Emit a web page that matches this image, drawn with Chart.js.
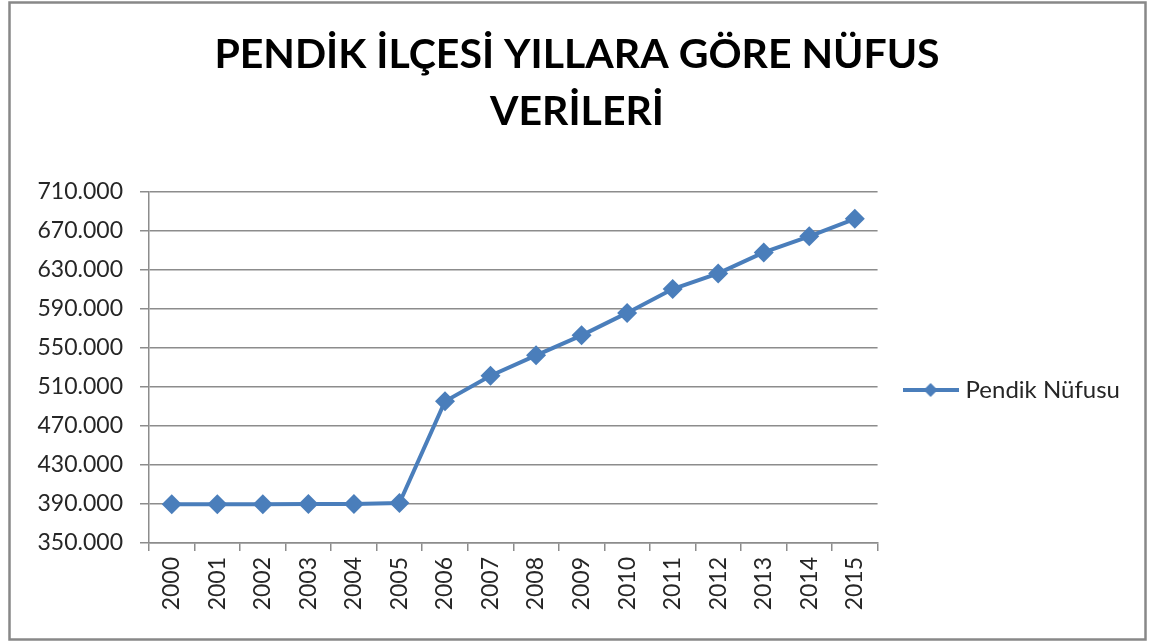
<!DOCTYPE html>
<html><head><meta charset="utf-8">
<script src="https://cdn.jsdelivr.net/npm/chart.js@4/dist/chart.umd.min.js"></script>
<style>html,body{margin:0;padding:0;background:#fff;overflow:hidden;}</style>
</head><body>
<canvas id="c" width="1159" height="641" style="display:block;width:1159px;height:641px"></canvas>
<script>
const titleLines = ["PENDİK İLÇESİ YILLARA GÖRE NÜFUS", "VERİLERİ"];
const years = ["2000","2001","2002","2003","2004","2005","2006","2007","2008","2009","2010","2011","2012","2013","2014","2015"];
const population = [389800, 389800, 389800, 389900, 389900, 391000, 495300, 521500, 542500, 563000, 586000, 610500, 626500, 648000, 664500, 682500];
const seriesName = "Pendik Nüfusu";
const yMin = 350000, yMax = 710000, yStep = 40000;

const BLUE = '#4A7EBB';
const GRID = '#8c8c8c';
const TXT = '#262626';

function fmt(v){ return String(Math.round(v)).replace(/\B(?=(\d{3})+(?!\d))/g, '.'); }

// legend icon: line with diamond
const icon = document.createElement('canvas');
icon.width = 56; icon.height = 20;
(function(){
  const g = icon.getContext('2d');
  g.strokeStyle = BLUE; g.lineWidth = 4;
  g.beginPath(); g.moveTo(0,10); g.lineTo(56,10); g.stroke();
  g.fillStyle = BLUE;
  g.beginPath(); g.moveTo(28,3); g.lineTo(35,10); g.lineTo(28,17); g.lineTo(21,10); g.closePath(); g.fill();
})();

const framePlugin = {
  id: 'frame',
  beforeDraw(chart){
    const c = chart.ctx;
    c.save();
    c.fillStyle = '#fff';
    c.fillRect(0,0,chart.width,chart.height);
    c.strokeStyle = '#888';
    c.lineWidth = 2.5;
    c.strokeRect(9.5, 2.5, 1136, 637);
    c.restore();
  }
};

new Chart(document.getElementById('c'), {
  type: 'line',
  data: {
    labels: years,
    datasets: [{
      label: seriesName,
      data: population,
      borderColor: BLUE,
      backgroundColor: BLUE,
      borderWidth: 4,
      pointStyle: 'rectRot',
      pointRadius: 10,
      pointHoverRadius: 10,
      pointBackgroundColor: BLUE,
      pointBorderWidth: 0,
      tension: 0,
      clip: false
    }]
  },
  options: {
    responsive: false,
    animation: false,
    devicePixelRatio: 1,
    layout: { padding: { left: 24, top: 0, right: 29, bottom: 0 } },
    plugins: {
      title: {
        display: true,
        text: titleLines,
        color: '#000',
        font: { family: 'Lato', size: 41, weight: 'bold', lineHeight: 57/41 },
        padding: { top: 26, bottom: 52 }
      },
      legend: {
        display: true,
        position: 'right',
        align: 'start',
        fullSize: false,
        title: { display: true, text: ' ', font: { size: 10, lineHeight: 1.2 }, padding: 72 },
        labels: {
          usePointStyle: true,
          pointStyle: icon,
          pointStyleWidth: 46,
          padding: 30,
          color: TXT,
          font: { family: 'Lato', size: 24 }
        }
      },
      tooltip: { enabled: false }
    },
    scales: {
      x: {
        type: 'category',
        offset: true,
        afterFit(s){ s.height = 98; },
        grid: { display: true, offset: true, drawOnChartArea: false, drawTicks: true, tickLength: 8, color: GRID, lineWidth: 1.5 },
        border: { display: true, color: GRID, width: 1.5 },
        ticks: { maxRotation: 90, minRotation: 90, autoSkip: false, padding: 6, color: TXT, font: { family: 'Lato', size: 23 } }
      },
      y: {
        min: yMin, max: yMax,
        afterFit(s){ s.width = 125; },
        grid: { display: true, color: GRID, lineWidth: 1.5, tickLength: 9, drawTicks: true },
        border: { display: true, color: GRID, width: 1.5 },
        ticks: { stepSize: yStep, padding: 17, color: TXT, font: { family: 'Lato', size: 23 }, callback: (v) => fmt(v) }
      }
    }
  },
  plugins: [framePlugin]
});
</script>
</body></html>
